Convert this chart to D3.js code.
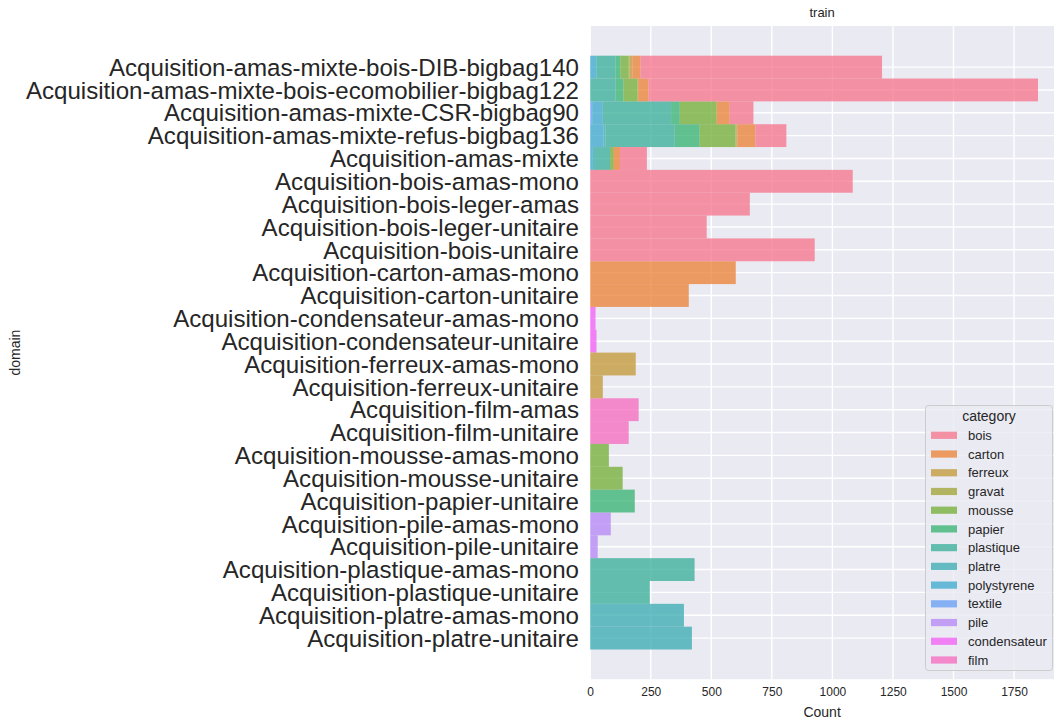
<!DOCTYPE html>
<html>
<head>
<meta charset="utf-8">
<script src="https://cdn.jsdelivr.net/npm/d3@7/dist/d3.min.js"></script>
<style>
  html, body { margin: 0; padding: 0; background: #ffffff; }
  svg { display: block; font-family: "Liberation Sans", Arial, sans-serif; }
</style>
</head>
<body>
<svg id="chart" width="1054" height="722"></svg>
<script>
// ---------------- DATA ----------------
const domains = [
  "Acquisition-amas-mixte-bois-DIB-bigbag140",
  "Acquisition-amas-mixte-bois-ecomobilier-bigbag122",
  "Acquisition-amas-mixte-CSR-bigbag90",
  "Acquisition-amas-mixte-refus-bigbag136",
  "Acquisition-amas-mixte",
  "Acquisition-bois-amas-mono",
  "Acquisition-bois-leger-amas",
  "Acquisition-bois-leger-unitaire",
  "Acquisition-bois-unitaire",
  "Acquisition-carton-amas-mono",
  "Acquisition-carton-unitaire",
  "Acquisition-condensateur-amas-mono",
  "Acquisition-condensateur-unitaire",
  "Acquisition-ferreux-amas-mono",
  "Acquisition-ferreux-unitaire",
  "Acquisition-film-amas",
  "Acquisition-film-unitaire",
  "Acquisition-mousse-amas-mono",
  "Acquisition-mousse-unitaire",
  "Acquisition-papier-unitaire",
  "Acquisition-pile-amas-mono",
  "Acquisition-pile-unitaire",
  "Acquisition-plastique-amas-mono",
  "Acquisition-plastique-unitaire",
  "Acquisition-platre-amas-mono",
  "Acquisition-platre-unitaire"
];

const categories = ["bois", "carton", "ferreux", "gravat", "mousse", "papier",
  "plastique", "platre", "polystyrene", "textile", "pile", "condensateur", "film"];

// counts per category, one value per domain (same order as `domains`)
const bois         = [997, 1608, 98, 128, 111, 1084, 659, 481, 927, 0, 0, 0, 0, 0, 0, 0, 0, 0, 0, 0, 0, 0, 0, 0, 0, 0];
const carton       = [34, 43, 53, 73, 25, 0, 0, 0, 0, 601, 407, 0, 0, 0, 0, 0, 0, 0, 0, 0, 0, 0, 0, 0, 0, 0];
const ferreux      = [11, 0, 0, 6, 0, 0, 0, 0, 0, 0, 0, 0, 0, 188, 52, 0, 0, 0, 0, 0, 0, 0, 0, 0, 0, 0];
const gravat       = [4, 3, 3, 3, 4, 0, 0, 0, 0, 0, 0, 0, 0, 0, 0, 0, 0, 0, 0, 0, 0, 0, 0, 0, 0, 0];
const mousse       = [34, 58, 150, 148, 12, 0, 0, 0, 0, 0, 0, 0, 0, 0, 0, 0, 0, 77, 134, 0, 0, 0, 0, 0, 0, 0];
const papier       = [21, 32, 36, 103, 0, 0, 0, 0, 0, 0, 0, 0, 0, 0, 0, 0, 0, 0, 0, 184, 0, 0, 0, 0, 0, 0];
const plastique    = [76, 105, 282, 286, 58, 0, 0, 0, 0, 0, 0, 0, 0, 0, 0, 0, 0, 0, 0, 0, 0, 0, 431, 246, 0, 0];
const platre       = [3, 0, 0, 8, 16, 0, 0, 0, 0, 0, 0, 0, 0, 0, 0, 0, 0, 0, 0, 0, 0, 0, 0, 0, 387, 420];
const polystyrene  = [25, 0, 44, 55, 8, 0, 0, 0, 0, 0, 0, 0, 0, 0, 0, 0, 0, 0, 0, 0, 0, 0, 0, 0, 0, 0];
const textile      = [0, 0, 8, 0, 0, 0, 0, 0, 0, 0, 0, 0, 0, 0, 0, 0, 0, 0, 0, 0, 0, 0, 0, 0, 0, 0];
const pile         = [0, 0, 0, 0, 0, 0, 0, 0, 0, 0, 0, 0, 0, 0, 0, 0, 0, 0, 0, 0, 85, 31, 0, 0, 0, 0];
const condensateur = [0, 0, 0, 0, 0, 0, 0, 0, 0, 0, 0, 22, 26, 0, 0, 0, 0, 0, 0, 0, 0, 0, 0, 0, 0, 0];
const film         = [0, 0, 0, 0, 0, 0, 0, 0, 0, 0, 0, 0, 0, 0, 0, 200, 159, 0, 0, 0, 0, 0, 0, 0, 0, 0];

const xTicks = [0, 250, 500, 750, 1000, 1250, 1500, 1750];
const titleText = "train";
const xLabel = "Count";
const yLabel = "domain";
const legendTitle = "category";

// ---------------- COLORS (seaborn husl palette) ----------------
function huslToRgb(H, S, L) {
  const m = [[3.2406, -1.5372, -0.4986], [-0.9689, 1.8758, 0.0415], [0.0557, -0.2040, 1.0570]];
  const refU = 0.19784, refV = 0.46834, refY = 1.0, labE = 0.008856, labK = 903.3;
  function maxChroma(L, H) {
    const hrad = H / 180 * Math.PI, sinH = Math.sin(hrad), cosH = Math.cos(hrad);
    const sub1 = Math.pow(L + 16, 3) / 1560896.0;
    const sub2 = sub1 > 0.008856 ? sub1 : L / 903.3;
    let result = Infinity;
    for (const [m1, m2, m3] of m) {
      const top = (0.99915 * m1 + 1.05122 * m2 + 1.14460 * m3) * sub2;
      const rb = 0.86330 * m3 - 0.17266 * m2;
      const lb = 0.12949 * m3 - 0.38848 * m1;
      const bottom = (rb * sinH + lb * cosH) * sub2;
      for (const t of [0, 1]) {
        const C = L * (top - 1.05122 * t) / (bottom + 0.17266 * sinH * t);
        if (C > 0 && C < result) result = C;
      }
    }
    return result;
  }
  let C;
  if (L > 99.9999999) { L = 100; C = 0; }
  else if (L < 1e-8) { L = 0; C = 0; }
  else C = maxChroma(L, H) / 100 * S;
  const hr = H / 180 * Math.PI;
  const U = Math.cos(hr) * C, V = Math.sin(hr) * C;
  if (L === 0) return [0, 0, 0];
  const t = (L + 16) / 116;
  const varY = Math.pow(t, 3) > labE ? Math.pow(t, 3) : (116 * t - 16) / labK;
  const varU = U / (13 * L) + refU, varV = V / (13 * L) + refV;
  const Y = varY * refY;
  const X = 0 - (9 * Y * varU) / ((varU - 4) * varV - varU * varV);
  const Z = (9 * Y - 15 * varV * Y - varV * X) / (3 * varV);
  return m.map(r => {
    const c = r[0] * X + r[1] * Y + r[2] * Z;
    const v = c <= 0.0031308 ? 12.92 * c : 1.055 * Math.pow(c, 1 / 2.4) - 0.055;
    return Math.max(0, Math.min(1, v));
  });
}
function huslPalette(n) {
  const out = [];
  for (let i = 0; i < n; i++) {
    let h = (i / n + 0.01) % 1;
    h *= 359;
    const rgb = huslToRgb(h, 0.9 * 99, 0.65 * 99);
    out.push(d3.rgb(rgb[0] * 255, rgb[1] * 255, rgb[2] * 255).formatHex());
  }
  return out;
}
const palette = huslPalette(categories.length);
const color = d3.scaleOrdinal().domain(categories).range(palette);

// ---------------- TABLE ----------------
const seriesByCat = { bois, carton, ferreux, gravat, mousse, papier, plastique, platre,
  polystyrene, textile, pile, condensateur, film };
const table = domains.map((d, i) => {
  const row = { domain: d };
  categories.forEach(c => { row[c] = seriesByCat[c][i]; });
  return row;
});
// seaborn stacks the last hue level first (leftmost), first level on top
const stackKeys = categories.slice().reverse();
const stacked = d3.stack().keys(stackKeys)(table);

// ---------------- LAYOUT ----------------
const svg = d3.select("#chart");
const W = 1054, H = 722;
const plot = { left: 590.2, right: 1054, top: 26, bottom: 679.2 };

const x = d3.scaleLinear().domain([0, 1915]).range([plot.left, plot.right]);
const y = d3.scaleBand().domain(domains).range([plot.top, plot.bottom])
  .paddingInner(0).paddingOuter(1.3);

svg.append("rect").attr("x", 0).attr("y", 0).attr("width", W).attr("height", H).attr("fill", "#ffffff");
svg.append("rect").attr("x", plot.left).attr("y", plot.top)
  .attr("width", plot.right - plot.left).attr("height", plot.bottom - plot.top)
  .attr("fill", "#eaeaf2");

// grid
const grid = svg.append("g");
grid.selectAll("line.v").data(xTicks).join("line")
  .attr("x1", d => x(d)).attr("x2", d => x(d))
  .attr("y1", plot.top).attr("y2", plot.bottom)
  .attr("stroke", "#ffffff").attr("stroke-width", 1.4);
grid.selectAll("line.h").data(domains).join("line")
  .attr("x1", plot.left).attr("x2", plot.right)
  .attr("y1", d => y(d) + y.bandwidth() / 2).attr("y2", d => y(d) + y.bandwidth() / 2)
  .attr("stroke", "#ffffff").attr("stroke-width", 1.4);

// bars
const barsG = svg.append("g");
stacked.forEach(layer => {
  barsG.append("g").attr("fill", color(layer.key)).attr("fill-opacity", 0.75)
    .selectAll("rect").data(layer.filter(s => s[1] - s[0] > 0)).join("rect")
    .attr("x", s => x(s[0]))
    .attr("width", s => x(s[1]) - x(s[0]))
    .attr("y", s => y(s.data.domain))
    .attr("height", y.bandwidth());
});

// axes (text only, seaborn darkgrid has no tick marks / spines)
const xAxis = d3.axisBottom(x).tickValues(xTicks).tickFormat(d3.format("d")).tickSize(0).tickPadding(0);
const gx = svg.append("g").attr("transform", `translate(0,${plot.bottom})`).call(xAxis);
gx.select(".domain").remove();
gx.selectAll("text").attr("y", 17).attr("dy", 0)
  .attr("font-size", 12).attr("fill", "#262626")
  .attr("font-family", "'Liberation Sans', Arial, sans-serif");

const yAxis = d3.axisLeft(y).tickSize(0).tickPadding(0);
const gy = svg.append("g").attr("transform", `translate(579,0)`).call(yAxis);
gy.select(".domain").remove();
gy.selectAll("text").attr("x", 0).attr("dy", "0.36em")
  .attr("font-size", 24.1).attr("fill", "#262626")
  .attr("font-family", "'Liberation Sans', Arial, sans-serif");

// labels
svg.append("text").attr("x", (plot.left + plot.right) / 2).attr("y", 717)
  .attr("text-anchor", "middle").attr("font-size", 14).attr("fill", "#262626").text(xLabel);
svg.append("text").attr("transform", `translate(20,${(plot.top + plot.bottom) / 2}) rotate(-90)`)
  .attr("text-anchor", "middle").attr("font-size", 14).attr("fill", "#262626").text(yLabel);
svg.append("text").attr("x", (plot.left + plot.right) / 2).attr("y", 16.5)
  .attr("text-anchor", "middle").attr("font-size", 13).attr("fill", "#262626").text(titleText);

// legend
const lg = svg.append("g");
lg.append("rect").attr("x", 925.5).attr("y", 405.5).attr("width", 127).attr("height", 265)
  .attr("rx", 3).attr("fill", "#eaeaf2").attr("fill-opacity", 0.8)
  .attr("stroke", "#cccccc").attr("stroke-width", 1);
lg.append("text").attr("x", 989).attr("y", 421).attr("text-anchor", "middle")
  .attr("font-size", 14).attr("fill", "#262626").text(legendTitle);
const ly = d3.scalePoint().domain(categories).range([435.3, 660]);
const items = lg.selectAll("g.item").data(categories).join("g")
  .attr("transform", d => `translate(0,${ly(d)})`);
items.append("rect").attr("x", 931).attr("y", -3.6).attr("width", 26).attr("height", 7.2)
  .attr("fill", d => color(d)).attr("fill-opacity", 0.75);
items.append("text").attr("x", 968).attr("y", 4.6).attr("font-size", 13)
  .attr("fill", "#262626").text(d => d);
</script>
</body>
</html>
